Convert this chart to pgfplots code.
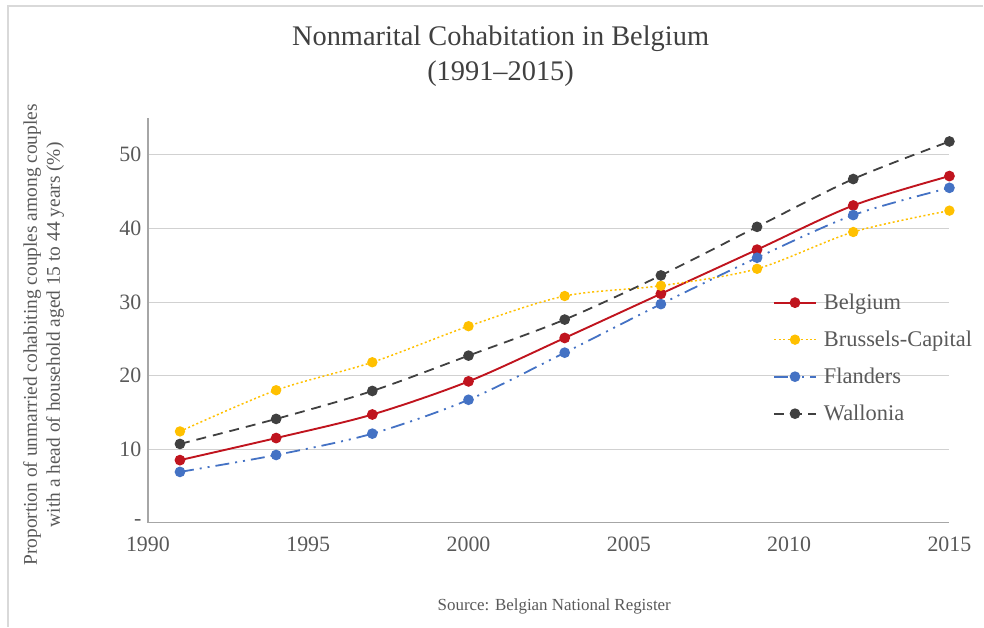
\documentclass[border=0pt]{standalone}
\usepackage{fontspec}
\setmainfont{Liberation Serif}
\usepackage{pgfplots}
\pgfplotsset{compat=1.18}
\definecolor{bred}{HTML}{C0141E}
\definecolor{byel}{HTML}{FFC000}
\definecolor{bblue}{HTML}{4472C4}
\definecolor{bgray}{HTML}{404040}
\definecolor{txt}{HTML}{595959}
\begin{document}
\begin{tikzpicture}
\begin{axis}[
  scale only axis, width=802bp, height=405bp,
  xmin=1990, xmax=2015, ymin=0, ymax=55,
  xtick={1990,1995,2000,2005,2010,2015},
  ytick={0,10,20,30,40,50}, yticklabels={-,10,20,30,40,50},
  /pgf/number format/assume math mode=true,
  x tick label style={/pgf/number format/1000 sep=, yshift=-11bp},
  y tick label style={xshift=-3bp},
  tick label style={font=\fontsize{22}{26}\selectfont, text=txt},
  axis x line*=bottom, axis y line*=left,
  axis line style={-, draw=black!35, line width=1.3bp},
  major tick length=0pt,
  ymajorgrids, grid style={black!18, line width=0.8bp},
  clip=false,
  ylabel={Proportion of unmarried cohabiting couples among couples\\with a head of household aged 15 to 44 years (\%)},
  ylabel style={at={(rel axis cs:-0.13,0.464)}, anchor=center, align=center,
    font=\fontsize{19.5}{23}\selectfont, text=txt},
  legend style={at={(rel axis cs:0.776,0.575)}, anchor=north west, draw=none, fill=none,
    font=\fontsize{22.5}{26}\selectfont, text=txt, row sep=16bp, cells={anchor=west},
    /tikz/every odd column/.append style={column sep=5bp}},
  legend image code/.code={\draw[mark repeat=2,mark phase=2,#1] plot coordinates {(0bp,0bp)(21bp,0bp)(42bp,0bp)};},
  every axis plot/.append style={mark=*, mark size=4.4bp, smooth, tension=0.5},
]
\addplot[color=bred, line width=1.9bp, mark options={solid, fill=bred}] coordinates {
(1991,8.5)(1994,11.5)(1997,14.7)(2000,19.2)(2003,25.1)(2006,31.1)(2009,37.1)(2012,43.1)(2015,47.1)};
\addlegendentry{Belgium}
\addplot[color=byel, line width=1.5bp, dash pattern=on 2bp off 2.5bp, mark options={solid, fill=byel}] coordinates {
(1991,12.4)(1994,18.0)(1997,21.8)(2000,26.7)(2003,30.8)(2006,32.2)(2009,34.5)(2012,39.5)(2015,42.4)};
\addlegendentry{Brussels-Capital}
\addplot[color=bblue, line width=1.8bp, dash pattern=on 14bp off 6bp on 2bp off 6bp on 2bp off 6bp, mark options={solid, fill=bblue}] coordinates {
(1991,6.9)(1994,9.2)(1997,12.1)(2000,16.7)(2003,23.1)(2006,29.7)(2009,36.0)(2012,41.8)(2015,45.5)};
\addlegendentry{Flanders}
\addplot[color=bgray, line width=1.8bp, dash pattern=on 10bp off 7bp, mark options={solid, fill=bgray}] coordinates {
(1991,10.7)(1994,14.1)(1997,17.9)(2000,22.7)(2003,27.6)(2006,33.6)(2009,40.2)(2012,46.7)(2015,51.8)};
\addlegendentry{Wallonia}
\coordinate (o) at (rel axis cs:0,0);
\node[anchor=south, align=center, font=\fontsize{28.5}{35}\selectfont, text=bgray]
  at ([yshift=28bp]rel axis cs:0.44,1) {Nonmarital Cohabitation in Belgium\\(1991--2015)};
\node[font=\fontsize{17}{19}\selectfont, text=txt] at ([yshift=-84bp]rel axis cs:0.507,0) {Source: Belgian National Register};
\end{axis}
\draw[black!15, line width=1.2bp] ([xshift=-140bp,yshift=-104bp]o) -- ++(0,621bp) -- ++(976bp,0);
\path ([xshift=-148bp,yshift=-104bp]o) rectangle ++(984bp,627bp);
\end{tikzpicture}
\end{document}
